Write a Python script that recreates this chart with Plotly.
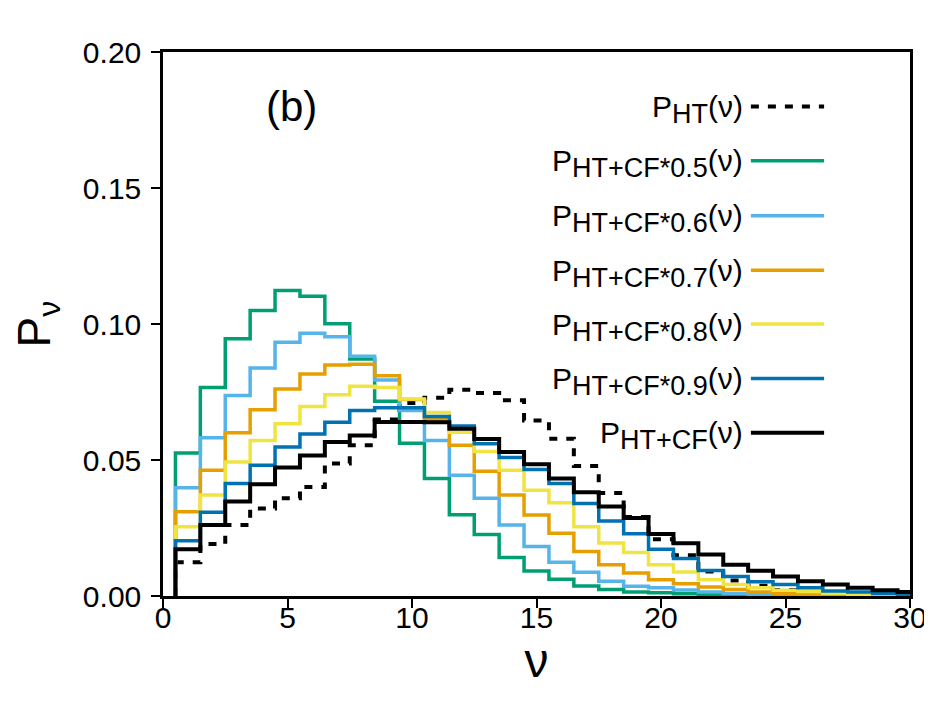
import plotly.graph_objects as go

# bin centres (nu) and step-histogram values
nu = list(range(1, 31))

p_ht = [0.0124, 0.0191, 0.0261, 0.0322, 0.0359, 0.0401, 0.0487, 0.0554, 0.0649, 0.0710,
        0.0729, 0.0758, 0.0746, 0.0720, 0.0645, 0.0578, 0.0478, 0.0379, 0.0290, 0.0209,
        0.0150, 0.0090, 0.0057, 0.0038, 0.0022, 0.0013, 0.0008, 0.0004, 0.0002, 0.0001]
p_05 = [0.0526, 0.0767, 0.0946, 0.1050, 0.1123, 0.1102, 0.1001, 0.0871, 0.0716, 0.0562,
        0.0432, 0.0299, 0.0226, 0.0142, 0.0092, 0.0062, 0.0037, 0.0024, 0.0015, 0.0012,
        0.0008, 0.0005, 0.0003, 0.0002, 0.0001, 0.0001, 0.0, 0.0, 0.0, 0.0]
p_06 = [0.0398, 0.0582, 0.0737, 0.0838, 0.0933, 0.0966, 0.0953, 0.0881, 0.0794, 0.0682,
        0.0572, 0.0444, 0.0359, 0.0261, 0.0182, 0.0124, 0.0087, 0.0054, 0.0036, 0.0030,
        0.0022, 0.0015, 0.0009, 0.0006, 0.0004, 0.0002, 0.0001, 0.0001, 0.0, 0.0]
p_07 = [0.0310, 0.0462, 0.0600, 0.0685, 0.0761, 0.0816, 0.0849, 0.0852, 0.0810, 0.0722,
        0.0649, 0.0554, 0.0459, 0.0371, 0.0298, 0.0231, 0.0164, 0.0115, 0.0085, 0.0060,
        0.0045, 0.0033, 0.0024, 0.0015, 0.0010, 0.0006, 0.0004, 0.0002, 0.0001, 0.0001]
p_08 = [0.0255, 0.0371, 0.0493, 0.0572, 0.0633, 0.0697, 0.0740, 0.0771, 0.0767, 0.0724,
        0.0675, 0.0602, 0.0531, 0.0462, 0.0389, 0.0343, 0.0255, 0.0195, 0.0160, 0.0115,
        0.0088, 0.0060, 0.0042, 0.0030, 0.0021, 0.0017, 0.0010, 0.0006, 0.0003, 0.0002]
p_09 = [0.0203, 0.0308, 0.0414, 0.0481, 0.0548, 0.0596, 0.0639, 0.0682, 0.0692, 0.0692,
        0.0660, 0.0625, 0.0560, 0.0509, 0.0465, 0.0414, 0.0340, 0.0276, 0.0229, 0.0172,
        0.0138, 0.0094, 0.0072, 0.0052, 0.0042, 0.0030, 0.0018, 0.0015, 0.0009, 0.0006]
p_cf = [0.0172, 0.0261, 0.0347, 0.0411, 0.0472, 0.0517, 0.0566, 0.0590, 0.0640, 0.0640,
        0.0639, 0.0615, 0.0577, 0.0529, 0.0484, 0.0432, 0.0381, 0.0329, 0.0287, 0.0228,
        0.0194, 0.0153, 0.0115, 0.0093, 0.0072, 0.0054, 0.0042, 0.0030, 0.0021, 0.0015]

subs = ["HT", "HT+CF*0.5", "HT+CF*0.6", "HT+CF*0.7", "HT+CF*0.8", "HT+CF*0.9", "HT+CF"]
values = [p_ht, p_05, p_06, p_07, p_08, p_09, p_cf]
colors = ["black", "#009E73", "#56B4E9", "#E69F00", "#F0E442", "#0072B2", "black"]
dashes = ["8px,9px", "solid", "solid", "solid", "solid", "solid", "solid"]

FONT = "Liberation Sans, Arial, sans-serif"

fig = go.Figure()
for sub, vals, col, dash in zip(subs, values, colors, dashes):
    # step outline: bin edges at centre +/- 0.5, starting from zero
    xs = [nu[0] - 0.5] + [c - 0.5 for c in nu] + [nu[-1] + 0.5]
    ys = [0] + vals + [vals[-1]]
    fig.add_trace(go.Scatter(x=xs, y=ys, mode="lines", line_shape="hv",
                             line=dict(color=col, width=4 if col == "black" else 3.5, dash=dash),
                             name=sub, showlegend=False))

# legend drawn by hand: text on the left, line sample on the right
row_y = [0.900, 0.800, 0.699, 0.599, 0.500, 0.400, 0.300]
for sub, col, dash, ry in zip(subs, colors, dashes, row_y):
    label = "P<sub><span style='font-size:27px'>" + sub + "</span></sub>(ν)"
    fig.add_annotation(x=0.779, y=ry, xref="paper", yref="paper", text=label,
                       showarrow=False, xanchor="right", yanchor="middle", yshift=-3,
                       font=dict(family=FONT, size=30, color="black"))
    fig.add_shape(type="line", xref="paper", yref="paper", x0=0.787, x1=0.885, y0=ry, y1=ry,
                  line=dict(color=col, width=4 if col == "black" else 3.5, dash=dash))

fig.add_annotation(x=0.172, y=0.900, xref="paper", yref="paper", text="(b)", showarrow=False,
                   xanchor="center", yanchor="middle", font=dict(family=FONT, size=42, color="black"))

fig.update_layout(width=932, height=720, margin=dict(l=155, r=30, t=44, b=132),
                  plot_bgcolor="white", paper_bgcolor="white", showlegend=False,
                  font=dict(family=FONT, color="black"))
fig.update_xaxes(range=[0, 30], tickvals=[0, 5, 10, 15, 20, 25, 30], ticks="outside", ticklen=9,
                 tickwidth=2, tickcolor="black", showline=True, linecolor="black", linewidth=2.5,
                 mirror=True, showgrid=False, zeroline=False, tickfont=dict(size=30),
                 ticklabelstandoff=-16,
                 title=dict(text="ν", font=dict(size=48), standoff=2))
fig.update_yaxes(range=[0, 0.2], tickvals=[0, 0.05, 0.10, 0.15, 0.20], tickformat=".2f",
                 ticks="outside", ticklen=9, tickwidth=2, tickcolor="black", showline=True,
                 linecolor="black", linewidth=2.5, mirror=True, showgrid=False, zeroline=False,
                 tickfont=dict(size=30), ticklabelstandoff=4,
                 title=dict(text="P<sub>ν</sub>", font=dict(size=46), standoff=30))

fig.write_html("out.html")
